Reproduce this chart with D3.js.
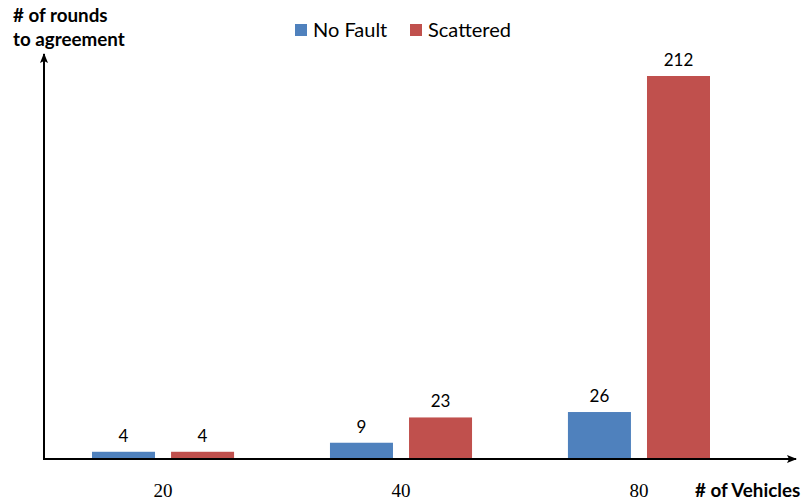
<!DOCTYPE html>
<html>
<head>
<meta charset="utf-8">
<script src="https://cdn.jsdelivr.net/npm/d3@7/dist/d3.min.js"></script>
<style>
  html, body { margin: 0; padding: 0; background: #fff; }
  svg { display: block; }
</style>
</head>
<body>
<svg id="chart" width="804" height="500"></svg>
<script>
// Vehicle counts on the x axis
const categories = ["20", "40", "80"];
// Series names and their rounds-to-agreement values
const seriesNames = ["No Fault", "Scattered"];
const noFault = [4, 9, 26];
const scattered = [4, 23, 212];
const seriesColors = ["#4F81BD", "#C0504D"];

const svg = d3.select("#chart");

const originX = 44, baseY = 459;

const x = d3.scaleBand()
  .domain(categories)
  .range([originX, originX + 238 * 3])
  .paddingInner(0.403)
  .paddingOuter(0.2017);

const xInner = d3.scaleBand()
  .domain(seriesNames)
  .range([0, x.bandwidth()])
  .paddingInner(0.203);

const y = d3.scaleLinear().domain([0, 212]).range([baseY, 76]);

const rows = categories.map((c, i) => ({
  cat: c,
  vals: [
    { name: seriesNames[0], v: noFault[i], color: seriesColors[0] },
    { name: seriesNames[1], v: scattered[i], color: seriesColors[1] }
  ]
}));

// Arrowhead marker for both axes
svg.append("defs").append("marker")
  .attr("id", "arrow")
  .attr("viewBox", "0 0 10 10")
  .attr("refX", 9).attr("refY", 5)
  .attr("markerWidth", 5).attr("markerHeight", 5)
  .attr("markerUnits", "strokeWidth")
  .attr("orient", "auto")
  .append("path")
  .attr("d", "M0,1 L10,5 L0,9 L2,5 Z")
  .attr("fill", "#000");

// Bars
const groups = svg.append("g").selectAll("g")
  .data(rows).join("g")
  .attr("transform", d => `translate(${x(d.cat)},0)`);

groups.selectAll("rect")
  .data(d => d.vals).join("rect")
  .attr("x", d => xInner(d.name))
  .attr("y", d => y(d.v))
  .attr("width", xInner.bandwidth())
  .attr("height", d => y(0) - y(d.v))
  .attr("fill", d => d.color);

// Value labels above bars
groups.selectAll("text")
  .data(d => d.vals).join("text")
  .attr("x", d => xInner(d.name) + xInner.bandwidth() / 2)
  .attr("y", d => y(d.v) - 10)
  .attr("text-anchor", "middle")
  .attr("font-family", "Lato, 'Open Sans', sans-serif")
  .attr("font-size", 17)
  .attr("fill", "#000")
  .text(d => d.v);

// Axes lines with arrows
svg.append("line")
  .attr("x1", originX).attr("y1", baseY)
  .attr("x2", originX).attr("y2", 54)
  .attr("stroke", "#000").attr("stroke-width", 2)
  .attr("marker-end", "url(#arrow)");

svg.append("line")
  .attr("x1", originX - 1).attr("y1", baseY)
  .attr("x2", 796).attr("y2", baseY)
  .attr("stroke", "#000").attr("stroke-width", 2)
  .attr("marker-end", "url(#arrow)");

// Category tick labels
svg.append("g").selectAll("text")
  .data(categories).join("text")
  .attr("x", d => x(d) + x.bandwidth() / 2)
  .attr("y", 497)
  .attr("text-anchor", "middle")
  .attr("font-family", "'Liberation Serif', 'DejaVu Serif', serif")
  .attr("font-size", 19)
  .attr("fill", "#000")
  .text(d => d);

// Axis titles
svg.append("text")
  .attr("x", 695).attr("y", 497)
  .attr("font-family", "Lato, 'Open Sans', sans-serif")
  .attr("font-weight", "bold")
  .attr("font-size", 18.8)
  .attr("fill", "#000")
  .text("# of Vehicles");

const yTitle = svg.append("text")
  .attr("font-family", "Lato, 'Open Sans', sans-serif")
  .attr("font-weight", "bold")
  .attr("font-size", 18.8)
  .attr("fill", "#000");
yTitle.append("tspan").attr("x", 13).attr("y", 22).text("# of rounds");
yTitle.append("tspan").attr("x", 13).attr("y", 46).text("to agreement");

// Legend
const legendX = [295, 410];
const legend = svg.append("g").selectAll("g")
  .data(seriesNames).join("g")
  .attr("transform", (d, i) => `translate(${legendX[i]},24)`);
legend.append("rect")
  .attr("width", 12).attr("height", 12)
  .attr("fill", (d, i) => seriesColors[i]);
legend.append("text")
  .attr("x", 18).attr("y", 13)
  .attr("font-family", "Lato, 'Open Sans', sans-serif")
  .attr("font-size", 20)
  .attr("fill", "#000")
  .text(d => d);
</script>
</body>
</html>
